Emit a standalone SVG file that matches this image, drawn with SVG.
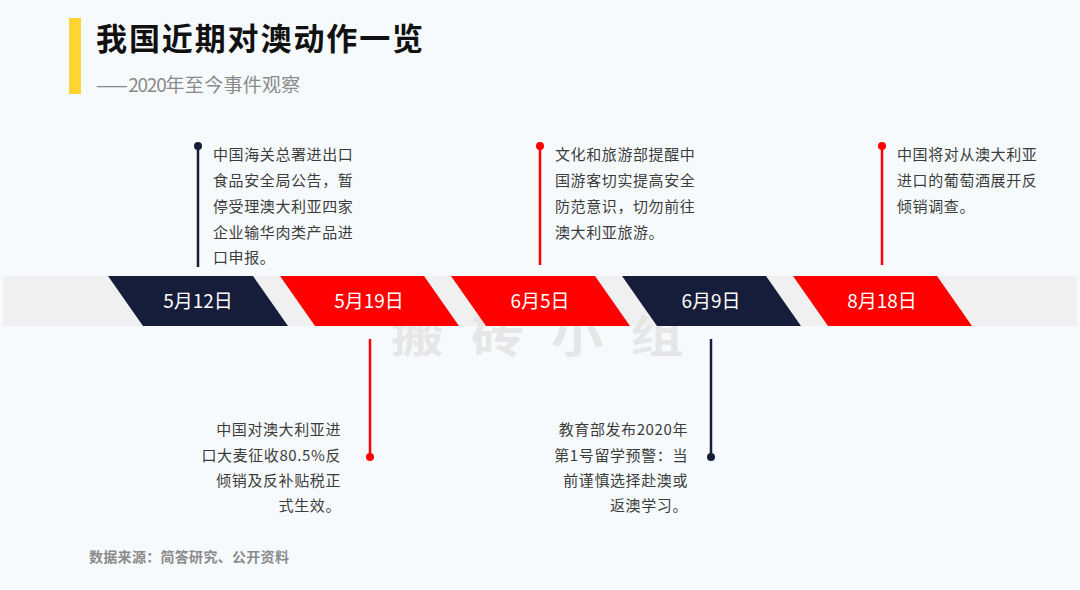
<svg xmlns="http://www.w3.org/2000/svg" width="1080" height="590" viewBox="0 0 1080 590">
<style>
.t{font-family:"Noto Sans CJK SC","Noto Sans",sans-serif}
.body{font-size:15px;fill:#3c3c3c;letter-spacing:0.6px}
.date{font-size:19px;fill:#ffffff;text-anchor:middle}
.navy{fill:#161d3a}
.red{fill:#ff0000}
.ln-navy{stroke:#161d3a;stroke-width:2.5}
.ln-red{stroke:#ff0000;stroke-width:2.5}
</style>
<rect width="1080" height="590" fill="#f7fafd"/>
<g id="header">
<rect x="69" y="18" width="12" height="76" fill="#fdd432"/>
<text class="t" x="96" y="50" font-size="31" font-weight="700" fill="#111" letter-spacing="1.9">我国近期对澳动作一览</text>
<text class="t" x="96" y="92" font-size="19" fill="#8a8a8a" letter-spacing="0.3">——<tspan letter-spacing="-1.2">2020</tspan>年至今事件观察</text>
</g>
<g id="band">
<rect x="3" y="276" width="1074" height="50" fill="#f0f0f0"/>
</g>
<g id="watermark">
<text class="t" transform="scale(1.2,1)" x="326" y="353" font-size="44" font-weight="700" fill="#e4e4e4" opacity="0.88" letter-spacing="22.5">搬砖小组</text>
</g>
<g id="connectors">
<line class="ln-navy" x1="198" y1="146" x2="198" y2="267"/>
<circle cx="198" cy="146" r="4" class="navy"/>
<line class="ln-red" x1="540" y1="146" x2="540" y2="265"/>
<circle cx="540" cy="146" r="4" class="red"/>
<line class="ln-red" x1="882" y1="146" x2="882" y2="265"/>
<circle cx="882" cy="146" r="4" class="red"/>
<line class="ln-red" x1="370" y1="339" x2="370" y2="457"/>
<circle cx="370" cy="457" r="4" class="red"/>
<line class="ln-navy" x1="711" y1="339" x2="711" y2="457"/>
<circle cx="711" cy="457" r="4" class="navy"/>
</g>
<g id="d1">
<polygon points="108,276 253,276 288,326 143,326" class="navy"/>
<text class="t date" x="198" y="308">5月12日</text>
</g>
<g id="d2">
<polygon points="280,276 424,276 459,326 315,326" class="red"/>
<text class="t date" x="369" y="308">5月19日</text>
</g>
<g id="d3">
<polygon points="451,276 595,276 630,326 486,326" class="red"/>
<text class="t date" x="540" y="308">6月5日</text>
</g>
<g id="d4">
<polygon points="622,276 766,276 801,326 657,326" class="navy"/>
<text class="t date" x="711" y="308">6月9日</text>
</g>
<g id="d5">
<polygon points="793,276 937,276 972,326 828,326" class="red"/>
<text class="t date" x="882" y="308">8月18日</text>
</g>
<g id="e1">
<text class="t body" x="213" y="160">中国海关总署进出口</text>
<text class="t body" x="213" y="186">食品安全局公告，暂</text>
<text class="t body" x="213" y="212">停受理澳大利亚四家</text>
<text class="t body" x="213" y="238">企业输华肉类产品进</text>
<text class="t body" x="213" y="263">口申报。</text>
</g>
<g id="e3">
<text class="t body" x="555" y="160">文化和旅游部提醒中</text>
<text class="t body" x="555" y="186">国游客切实提高安全</text>
<text class="t body" x="555" y="212">防范意识，切勿前往</text>
<text class="t body" x="555" y="238">澳大利亚旅游。</text>
</g>
<g id="e5">
<text class="t body" x="897" y="160">中国将对从澳大利亚</text>
<text class="t body" x="897" y="186">进口的葡萄酒展开反</text>
<text class="t body" x="897" y="212">倾销调查。</text>
</g>
<g id="e2">
<text class="t body" x="341" y="435" text-anchor="end">中国对澳大利亚进</text>
<text class="t body" x="341" y="461" text-anchor="end">口大麦征收80.5%反</text>
<text class="t body" x="341" y="486" text-anchor="end">倾销及反补贴税正</text>
<text class="t body" x="341" y="511" text-anchor="end">式生效。</text>
</g>
<g id="e4">
<text class="t body" x="688" y="435" text-anchor="end">教育部发布2020年</text>
<text class="t body" x="688" y="461" text-anchor="end">第1号留学预警：当</text>
<text class="t body" x="688" y="486" text-anchor="end">前谨慎选择赴澳或</text>
<text class="t body" x="688" y="511" text-anchor="end">返澳学习。</text>
</g>
<g id="source">
<text class="t" x="89" y="562" font-size="14" font-weight="700" fill="#8a8a8a" letter-spacing="0.3">数据来源：简答研究、公开资料</text>
</g>
</svg>
